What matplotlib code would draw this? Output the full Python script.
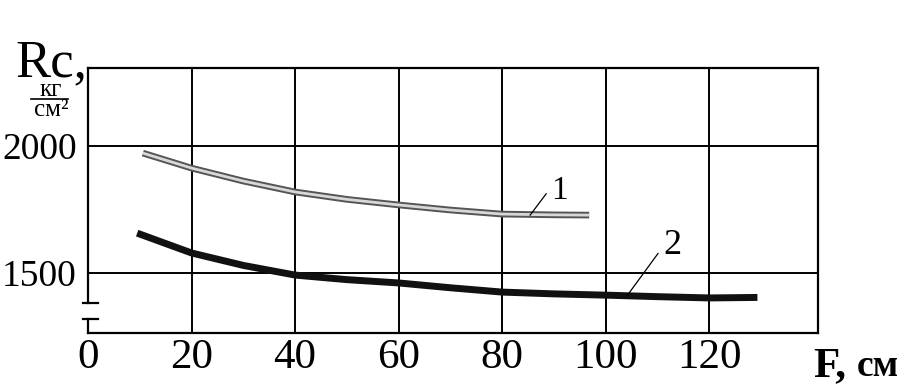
import numpy as np
import matplotlib.pyplot as plt

# значения
F1 = [10.6, 20, 30, 40, 50, 60, 70, 80, 90, 96.8]
R1 = [1972, 1913, 1862, 1819, 1790, 1768, 1748, 1732, 1729, 1728]

F2 = [9.5, 20, 30, 40, 50, 60, 70, 80, 90, 100, 110, 120, 129.3]
R2 = [1657, 1579, 1530, 1492, 1474, 1461, 1442, 1425, 1418, 1413, 1407, 1402, 1404]

xticks = [0, 20, 40, 60, 80, 100, 120]
yticks = [1500, 2000]
ytick_labels = ["1500", "2000"]

plt.rcParams['font.family'] = ['Liberation Serif', 'DejaVu Serif']

fig = plt.figure(figsize=(8.99, 3.87), dpi=100)
ax = fig.add_axes([88 / 899, 1 - 333 / 387, (818 - 88) / 899, (333 - 68) / 387])

ax.set_xlim(0, 141)
ax.set_ylim(1264, 2307)

# сетка
for x in [20, 40, 60, 80, 100, 120]:
    ax.axvline(x, color="black", lw=1.4, zorder=1)
for y in yticks:
    ax.axhline(y, color="black", lw=1.4, zorder=1)

for s in ax.spines.values():
    s.set_linewidth(1.6)
ax.spines['left'].set_visible(False)
# левая ось с разрывом
brk_hi, brk_lo = 1382, 1319
ax.plot([0, 0], [brk_hi, 2307], color="black", lw=1.6, clip_on=False, zorder=3)
ax.plot([0, 0], [1264, brk_lo], color="black", lw=1.6, clip_on=False, zorder=3)
ax.plot([-0.9, 2.0], [brk_hi, brk_hi], color="black", lw=1.6, clip_on=False, zorder=3)
ax.plot([-0.9, 2.0], [brk_lo, brk_lo], color="black", lw=1.6, clip_on=False, zorder=3)

# кривая 1 (контурная)
ax.plot(F1, R1, color="#555555", lw=4.8, solid_capstyle="butt", zorder=4)
ax.plot(F1, R1, color="#d8d8d8", lw=2.0, solid_capstyle="butt", zorder=5)
# кривая 2
ax.plot(F2, R2, color="#111111", lw=5.0, solid_capstyle="butt", zorder=4)

# подписи кривых
ax.plot([85.4, 88.5], [1728, 1812], color="black", lw=0.9, zorder=6)
ax.text(91.0, 1824, "1", fontsize=24, ha="center", va="center")
ax.plot([104.1, 110.1], [1410, 1577], color="black", lw=0.9, zorder=6)
ax.text(112.9, 1608, "2", fontsize=26, ha="center", va="center")

ax.set_xticks(xticks)
ax.set_xticklabels([str(v) for v in xticks], fontsize=31)
ax.set_yticks(yticks)
ax.set_yticklabels(ytick_labels, fontsize=27)
ax.tick_params(axis="both", length=0)
ax.tick_params(axis="x", pad=4)
ax.tick_params(axis="y", pad=8)
ax.grid(False)

# подписи осей
fig.text(15 / 899, 1 - 76 / 387, "Rc,", fontsize=38)
fig.text(51 / 899, 1 - 100 / 387, "кг\nсм²", fontsize=18, ha="center", va="center",
         linespacing=0.85)
fig.add_artist(plt.Line2D([31 / 899, 68 / 899], [1 - 99 / 387, 1 - 99 / 387],
                          color="black", lw=1.2))

fig.text(813 / 899, 1 - 376 / 387, "F,", fontsize=31, fontweight="bold")
fig.text(857 / 899, 1 - 376 / 387, "см", fontsize=27, fontweight="bold")

fig.savefig("out.png", dpi=100)
